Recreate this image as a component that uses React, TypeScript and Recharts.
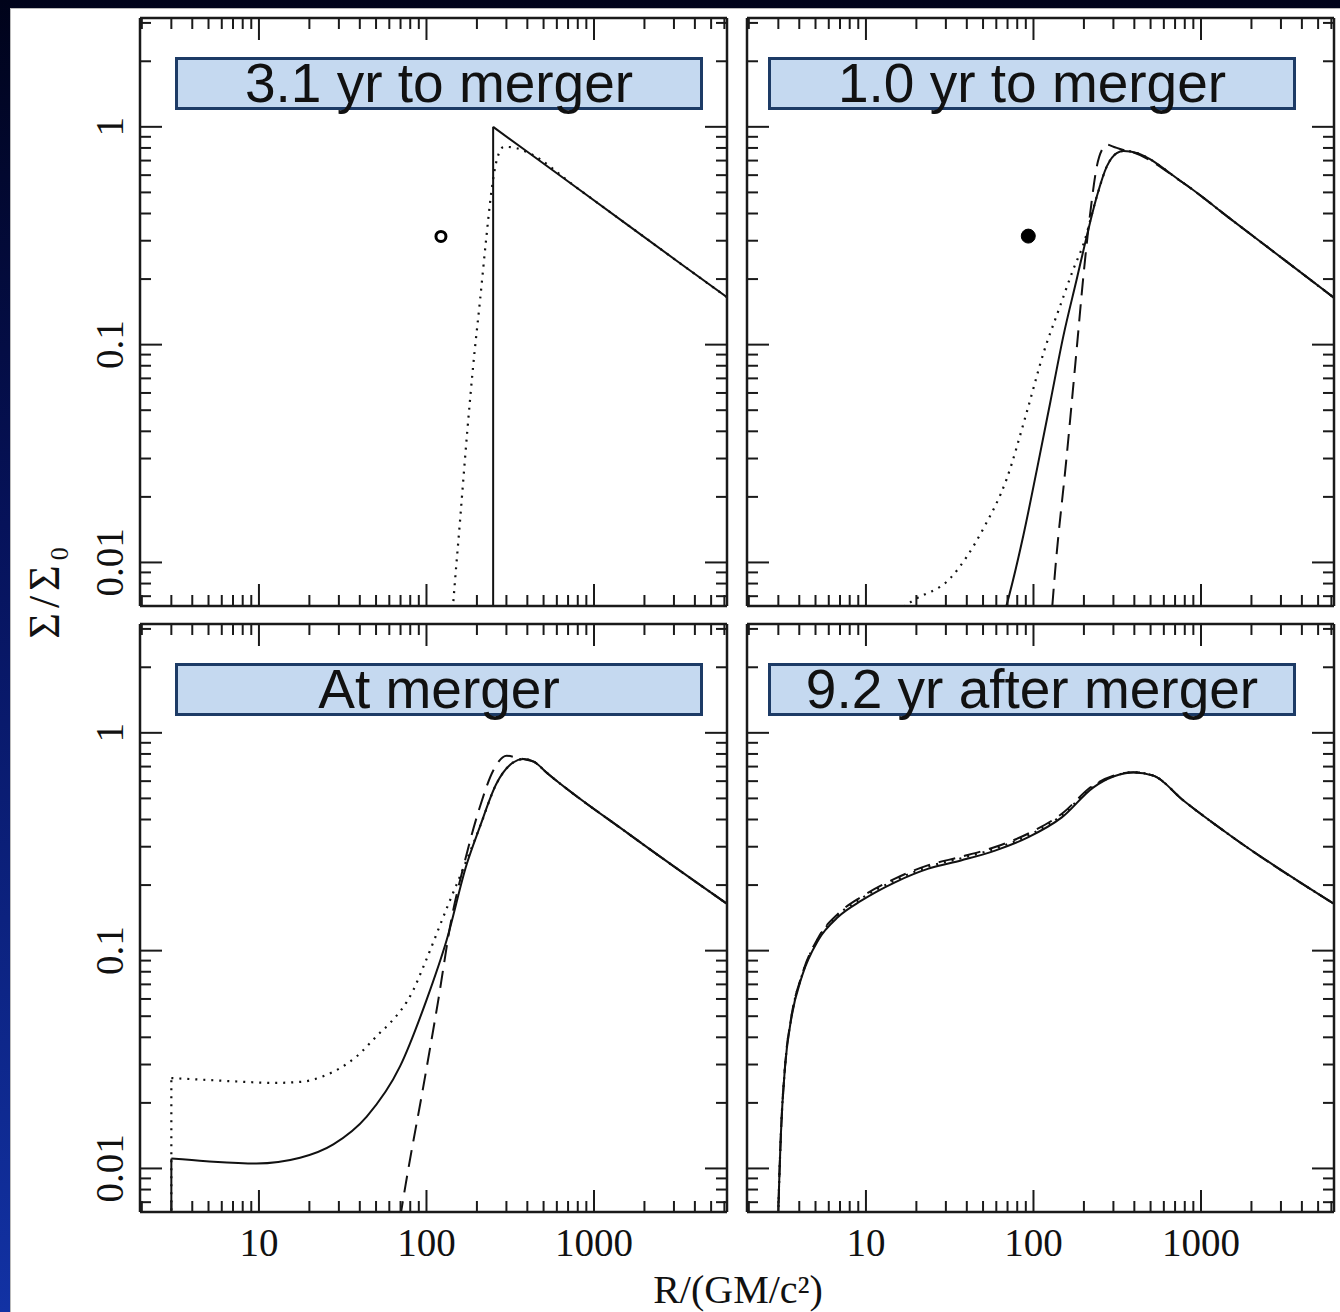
import { ComposedChart, Line, XAxis, YAxis } from "recharts";

// axes: R in GM/c^2 (log), surface density Sigma/Sigma0 (log)
const X_DOMAIN = [1.95, 6220];
const Y_DOMAIN = [0.00631, 3.16];
const X_TICKS = [2, 3, 4, 5, 6, 7, 8, 9, 10, 20, 30, 40, 50, 60, 70, 80, 90, 100, 200, 300, 400, 500, 600, 700, 800, 900, 1000, 2000, 3000, 4000, 5000, 6000];
const X_MAJOR = [10, 100, 1000];
const Y_TICKS = [0.007, 0.008, 0.009, 0.01, 0.02, 0.03, 0.04, 0.05, 0.06, 0.07, 0.08, 0.09, 0.1, 0.2, 0.3, 0.4, 0.5, 0.6, 0.7, 0.8, 0.9, 1, 2, 3];
const Y_MAJOR = [0.01, 0.1, 1];

// 3.1 yr to merger
const p1WallR = [250, 250];
const p1WallS = [0.001, 1.0];
const p1SolidR = [250, 400, 800, 1600, 3200, 6220];
const p1SolidS = [1.0, 0.768, 0.521, 0.353, 0.239, 0.165];
const p1DotR = [138, 144, 158, 175, 190, 209, 227, 245, 263, 290, 340, 400, 800, 1600, 3200, 6220];
const p1DotS = [0.004, 0.0063, 0.015, 0.0396, 0.08, 0.161, 0.304, 0.515, 0.706, 0.81, 0.8, 0.765, 0.521, 0.353, 0.239, 0.165];
const p1Mark = { r: 122, s: 0.314 };

// 1.0 yr to merger
const p2SolidR = [64, 69.2, 87, 105, 126, 151, 181, 208, 239, 274, 314, 345, 378, 785, 1560, 3100, 6220];
const p2SolidS = [0.0052, 0.0064, 0.0133, 0.0269, 0.0544, 0.11, 0.199, 0.315, 0.48, 0.658, 0.758, 0.775, 0.771, 0.552, 0.369, 0.247, 0.164];
const p2DashR = [126, 134.6, 158, 181, 199, 218, 239, 260, 274, 300, 340, 378, 785, 1560, 3100, 6220];
const p2DashS = [0.0048, 0.0091, 0.031, 0.095, 0.21, 0.4, 0.66, 0.8, 0.828, 0.81, 0.785, 0.771, 0.552, 0.369, 0.247, 0.164];
const p2DotR = [12, 16, 19.2, 31.8, 50.2, 69.2, 91.2, 115, 144, 173, 199, 239, 274, 314, 345, 378, 785, 1560, 3100, 6220];
const p2DotS = [0.005, 0.0061, 0.0067, 0.00845, 0.0143, 0.0242, 0.049, 0.092, 0.15, 0.222, 0.29, 0.48, 0.658, 0.758, 0.775, 0.771, 0.552, 0.369, 0.247, 0.164];
const p2Mark = { r: 93.1, s: 0.315 };

// at merger
const p3WallR = [3, 3];
const p3WallS = [0.001, 0.0111];
const p3SolidR = [3, 4.85, 9.66, 17.6, 27.8, 44, 69.5, 100, 132, 174, 208, 261, 329, 378, 440, 520, 1640, 6220];
const p3SolidS = [0.0111, 0.0108, 0.01054, 0.0112, 0.0129, 0.0173, 0.0294, 0.0593, 0.112, 0.25, 0.369, 0.582, 0.731, 0.758, 0.735, 0.658, 0.34, 0.164];
const p3DashR = [66, 71, 76, 95.5, 117.5, 141, 166, 208, 250, 301, 345, 378, 440, 520, 1640, 6220];
const p3DashS = [0.0045, 0.0065, 0.0089, 0.0235, 0.059, 0.14, 0.242, 0.455, 0.67, 0.785, 0.77, 0.758, 0.735, 0.658, 0.34, 0.164];
const p3DotWallR = [3, 3];
const p3DotWallS = [0.001, 0.026];
const p3DotR = [3, 4.85, 8, 12.2, 18, 24.2, 38.3, 52.8, 60.6, 83.5, 95.8, 135, 170, 208, 261, 329, 378, 440, 520, 1640, 6220];
const p3DotS = [0.026, 0.0255, 0.025, 0.0247, 0.025, 0.0265, 0.0327, 0.042, 0.0465, 0.066, 0.0843, 0.163, 0.25, 0.369, 0.582, 0.731, 0.758, 0.735, 0.658, 0.34, 0.164];

// 9.2 yr after merger
const p4R = [2.96, 3.0, 3.11, 3.29, 3.6, 4.14, 5.2, 6.84, 9.43, 14.9, 23.6, 37.3, 59, 93.3, 147.6, 228, 300, 395, 520, 785, 1560, 6220];
const p4SolidS = [0.004, 0.0063, 0.0146, 0.0294, 0.0498, 0.0759, 0.112, 0.143, 0.17, 0.206, 0.238, 0.26, 0.288, 0.332, 0.409, 0.562, 0.63, 0.658, 0.636, 0.489, 0.33, 0.164];
const p4DashS = [0.004, 0.0063, 0.0146, 0.0294, 0.0505, 0.077, 0.115, 0.148, 0.177, 0.214, 0.247, 0.27, 0.299, 0.345, 0.425, 0.575, 0.635, 0.66, 0.636, 0.489, 0.33, 0.164];
const p4DotS = [0.004, 0.0063, 0.0146, 0.0294, 0.0502, 0.0765, 0.114, 0.146, 0.174, 0.21, 0.243, 0.266, 0.294, 0.338, 0.418, 0.568, 0.632, 0.659, 0.636, 0.489, 0.33, 0.164];

const TITLES = ["3.1 yr to merger", "1.0 yr to merger", "At merger", "9.2 yr after merger"];

type Pt = { r: number; s: number };
type Curve = { data: Pt[]; style: "solid" | "dashed" | "dotted"; linear?: boolean };

const pts = (r: number[], s: number[]): Pt[] => r.map((v, i) => ({ r: v, s: s[i] }));

const PLOT_W = 587;
const PLOT_H = 588;
const INK = "#1a1a1a";

const panels = [
  {
    left: 140, top: 18, boxLeft: 175, xLabels: false, yLabels: true,
    curves: [
      { data: pts(p1DotR, p1DotS), style: "dotted" },
      { data: pts(p1WallR, p1WallS), style: "solid", linear: true },
      { data: pts(p1SolidR, p1SolidS), style: "solid", linear: true },
    ] as Curve[],
    mark: p1Mark, filled: false,
  },
  {
    left: 747, top: 18, boxLeft: 768, xLabels: false, yLabels: false,
    curves: [
      { data: pts(p2DotR, p2DotS), style: "dotted" },
      { data: pts(p2DashR, p2DashS), style: "dashed" },
      { data: pts(p2SolidR, p2SolidS), style: "solid" },
    ] as Curve[],
    mark: p2Mark, filled: true,
  },
  {
    left: 140, top: 624, boxLeft: 175, xLabels: true, yLabels: true,
    curves: [
      { data: pts(p3DotWallR, p3DotWallS), style: "dotted", linear: true },
      { data: pts(p3DotR, p3DotS), style: "dotted" },
      { data: pts(p3DashR, p3DashS), style: "dashed" },
      { data: pts(p3WallR, p3WallS), style: "solid", linear: true },
      { data: pts(p3SolidR, p3SolidS), style: "solid" },
    ] as Curve[],
    mark: null, filled: false,
  },
  {
    left: 747, top: 624, boxLeft: 768, xLabels: true, yLabels: false,
    curves: [
      { data: pts(p4R, p4DotS), style: "dotted" },
      { data: pts(p4R, p4DashS), style: "dashed" },
      { data: pts(p4R, p4SolidS), style: "solid" },
    ] as Curve[],
    mark: null, filled: false,
  },
];

const dashFor = (style: Curve["style"]) =>
  style === "dashed" ? "17 9" : style === "dotted" ? "2 6" : undefined;

// draws inward major/minor ticks plus (optionally) the decade labels
const tickFor = (side: "top" | "bottom" | "left" | "right", labelled: boolean) => (props: any) => {
  const { x, y, payload } = props;
  const v = Number(payload.value);
  const vertical = side === "left" || side === "right";
  const major = (vertical ? Y_MAJOR : X_MAJOR).includes(v);
  const len = major ? 22 : 11;
  let x2 = x;
  let y2 = y;
  if (side === "bottom") y2 = y - len;
  if (side === "top") y2 = y + len;
  if (side === "left") x2 = x + len;
  if (side === "right") x2 = x - len;
  const font = { fontFamily: "'Liberation Serif', serif", fontSize: 39, fill: "#111" };
  return (
    <g>
      <line x1={x} y1={y} x2={x2} y2={y2} stroke={INK} strokeWidth={2} />
      {labelled && major && side === "bottom" && (
        <text x={x} y={y + 44} textAnchor="middle" {...font}>
          {String(v)}
        </text>
      )}
      {labelled && major && side === "left" && (
        <text x={x - 17} y={y} textAnchor="middle" transform={`rotate(-90 ${x - 17} ${y})`} {...font}>
          {String(v)}
        </text>
      )}
    </g>
  );
};

const Panel = ({ p, title }: { p: (typeof panels)[number]; title: string }) => {
  const L = p.yLabels ? 110 : 10;
  const R = 8;
  const T = 10;
  const B = p.xLabels ? 60 : 8;
  const axisLine = { stroke: INK, strokeWidth: 2.5 };

  return (
    <>
      <div style={{ position: "absolute", left: p.left - L, top: p.top - T }}>
        <ComposedChart width={L + PLOT_W + R} height={T + PLOT_H + B} margin={{ top: 0, right: 0, bottom: 0, left: 0 }}>
          <XAxis
            dataKey="r" type="number" scale="log" domain={X_DOMAIN} allowDataOverflow
            ticks={X_TICKS} interval={0} height={B} tickSize={0} tickMargin={0}
            tickLine={false} axisLine={axisLine} tick={tickFor("bottom", p.xLabels)}
          />
          <XAxis
            xAxisId="top" orientation="top" dataKey="r" type="number" scale="log" domain={X_DOMAIN} allowDataOverflow
            ticks={X_TICKS} interval={0} height={T} tickSize={0} tickMargin={0}
            tickLine={false} axisLine={axisLine} tick={tickFor("top", false)}
          />
          <YAxis
            dataKey="s" type="number" scale="log" domain={Y_DOMAIN} allowDataOverflow
            ticks={Y_TICKS} interval={0} width={L} tickSize={0} tickMargin={0}
            tickLine={false} axisLine={axisLine} tick={tickFor("left", p.yLabels)}
          />
          <YAxis
            yAxisId="right" orientation="right" dataKey="s" type="number" scale="log" domain={Y_DOMAIN} allowDataOverflow
            ticks={Y_TICKS} interval={0} width={R} tickSize={0} tickMargin={0}
            tickLine={false} axisLine={axisLine} tick={tickFor("right", false)}
          />
          {p.curves.map((c, i) => (
            <Line
              key={i}
              data={c.data}
              dataKey="s"
              type={c.linear ? "linear" : "monotone"}
              stroke="#111"
              strokeWidth={c.style === "dotted" ? 2.2 : 2}
              strokeDasharray={dashFor(c.style)}
              dot={false}
              activeDot={false}
              legendType="none"
              isAnimationActive={false}
            />
          ))}
          {p.mark && (
            <Line
              data={[p.mark]}
              dataKey="s"
              stroke="none"
              dot={p.filled ? { r: 7, fill: "#000", stroke: "#000", strokeWidth: 1 } : { r: 5, fill: "#fff", stroke: "#000", strokeWidth: 3 }}
              activeDot={false}
              legendType="none"
              isAnimationActive={false}
            />
          )}
        </ComposedChart>
      </div>
      <div
        style={{
          position: "absolute", left: p.boxLeft, top: p.top + 39, width: 528, height: 53,
          boxSizing: "border-box", background: "#c5d9f0", border: "3px solid #1d3b66",
          fontFamily: "'Liberation Sans', Arial, sans-serif", fontSize: 55, lineHeight: "47px",
          textAlign: "center", color: "#111", whiteSpace: "nowrap",
        }}
      >
        {title}
      </div>
    </>
  );
};

export default function App() {
  return (
    <div
      style={{
        position: "absolute", left: 0, top: 0, width: 1340, height: 1312, overflow: "hidden",
        background: "linear-gradient(180deg, #00031a 0%, #06125a 40%, #1232a4 100%)",
      }}
    >
      <div style={{ position: "absolute", left: 10, top: 8, width: 1330, height: 1304, background: "#fff", borderLeft: "1px solid #bbb", borderTop: "1px solid #bbb" }} />
      {panels.map((p, i) => (
        <Panel key={i} p={p} title={TITLES[i]} />
      ))}
      <div
        style={{
          position: "absolute", left: 47, top: 593, transform: "translate(-50%, -50%) rotate(-90deg)",
          fontFamily: "'Liberation Serif', serif", fontSize: 44, letterSpacing: 5, color: "#111", whiteSpace: "nowrap",
        }}
      >
        Σ/Σ<sub style={{ fontSize: 26, letterSpacing: 0 }}>0</sub>
      </div>
      <div
        style={{
          position: "absolute", left: 738, top: 1272, transform: "translate(-50%, 0)", lineHeight: "36px",
          fontFamily: "'Liberation Serif', serif", fontSize: 40, color: "#111", whiteSpace: "nowrap",
        }}
      >
        R/(GM/c²)
      </div>
    </div>
  );
}
